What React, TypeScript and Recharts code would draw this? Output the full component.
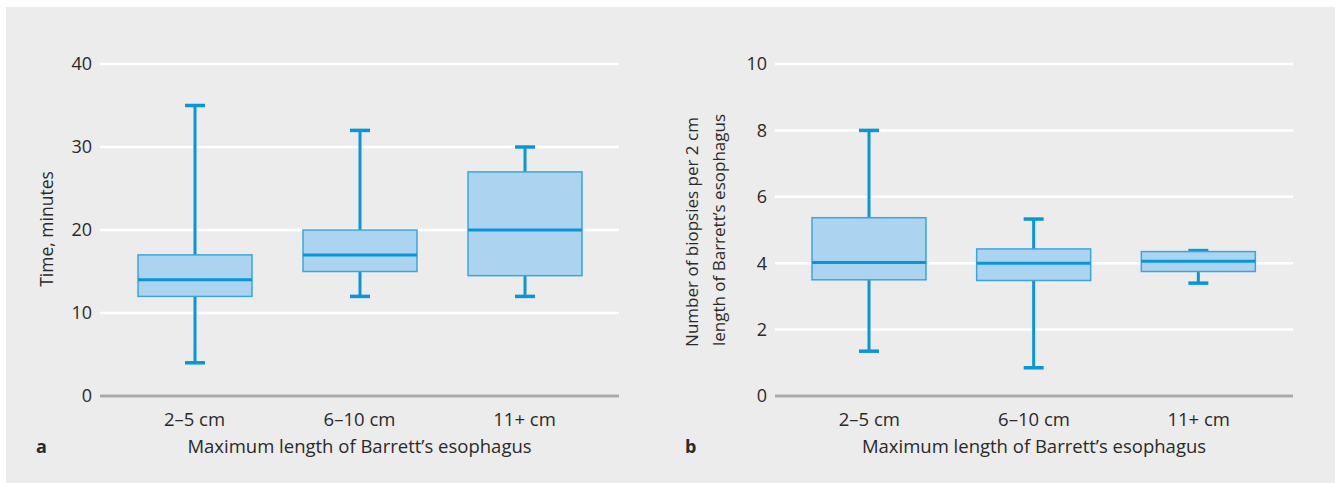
import { ComposedChart, Bar, XAxis, YAxis, CartesianGrid } from "recharts"

const categories = ["2–5 cm", "6–10 cm", "11+ cm"]

// panel a: time, minutes
const timeMin = [4, 12, 12]
const timeQ1 = [12, 15, 14.5]
const timeMedian = [14, 17, 20]
const timeQ3 = [17, 20, 27]
const timeMax = [35, 32, 30]
const timeTicks = [0, 10, 20, 30, 40]

// panel b: biopsies per 2 cm
const biopsyMin = [1.35, 0.85, 3.4]
const biopsyQ1 = [3.5, 3.48, 3.75]
const biopsyMedian = [4.02, 4.0, 4.06]
const biopsyQ3 = [5.37, 4.43, 4.35]
const biopsyMax = [8, 5.33, 4.38]
const biopsyTicks = [0, 2, 4, 6, 8, 10]

const FONT = "'Open Sans', 'Noto Sans', sans-serif"
const TEXT = "#2a2a2a"
const BLUE = "#0896d8"
const BOX_FILL = "#acd3f0"
const BOX_STROKE = "#3aa6df"

const rows = (mn: number[], q1: number[], md: number[], q3: number[], mx: number[]) =>
  categories.map((cat, i) => ({
    cat, range: [mn[i], mx[i]], min: mn[i], q1: q1[i], median: md[i], q3: q3[i], max: mx[i],
  }))

const timeData = rows(timeMin, timeQ1, timeMedian, timeQ3, timeMax)
const biopsyData = rows(biopsyMin, biopsyQ1, biopsyMedian, biopsyQ3, biopsyMax)

// draws a box plot inside the [min, max] range bar the library positions
function BoxShape(props: any) {
  const { x, y, width, height, payload } = props
  const top = Math.min(y, y + height)
  const bottom = Math.max(y, y + height)
  const { min, max, q1, median, q3 } = payload
  const py = (v: number) => bottom - ((v - min) / (max - min)) * (bottom - top)
  const cx = x + width / 2
  const cap = 10
  return (
    <g>
      <line x1={cx} x2={cx} y1={py(max)} y2={py(min)} stroke={BLUE} strokeWidth={3} />
      <line x1={cx - cap} x2={cx + cap} y1={py(max)} y2={py(max)} stroke={BLUE} strokeWidth={3.5} />
      <line x1={cx - cap} x2={cx + cap} y1={py(min)} y2={py(min)} stroke={BLUE} strokeWidth={3.5} />
      <rect x={x} y={py(q3)} width={width} height={py(q1) - py(q3)} fill={BOX_FILL} stroke={BOX_STROKE} strokeWidth={1.5} />
      <line x1={x} x2={x + width} y1={py(median)} y2={py(median)} stroke={BLUE} strokeWidth={3} />
    </g>
  )
}

const XTitle = (props: any) => {
  const { viewBox } = props
  return (
    <text x={viewBox.x + viewBox.width / 2} y={viewBox.y + 57} textAnchor="middle"
      fill={TEXT} fontSize={18.5} fontFamily={FONT}>
      Maximum length of Barrett’s esophagus
    </text>
  )
}

const YTitleA = () => (
  <text transform="translate(46,229) rotate(-90)" textAnchor="middle" dominantBaseline="central"
    fill={TEXT} fontSize={17.5} fontFamily={FONT}>
    Time, minutes
  </text>
)

const YTitleB = () => (
  <g>
    <text transform="translate(41,232) rotate(-90)" textAnchor="middle" dominantBaseline="central"
      fill={TEXT} fontSize={17} fontFamily={FONT}>
      Number of biopsies per 2 cm
    </text>
    <text transform="translate(68,230) rotate(-90)" textAnchor="middle" dominantBaseline="central"
      fill={TEXT} fontSize={17} fontFamily={FONT}>
      length of Barrett’s esophagus
    </text>
  </g>
)

interface PanelProps {
  data: ReturnType<typeof rows>
  ticks: number[]
  width: number
  margin: { top: number; right: number; bottom: number; left: number }
  yTitle: any
}

function Panel({ data, ticks, width, margin, yTitle }: PanelProps) {
  return (
    <ComposedChart width={width} height={483} data={data} margin={margin}>
      <CartesianGrid vertical={false} stroke="#ffffff" strokeWidth={2.5} />
      <XAxis
        dataKey="cat"
        height={60}
        padding={{ left: 12, right: 12 }}
        axisLine={{ stroke: "#a9a9a9", strokeWidth: 3 }}
        tickLine={false}
        tickMargin={11}
        tick={{ fill: TEXT, fontSize: 18.5, fontFamily: FONT }}
        label={{ content: XTitle }}
      />
      <YAxis
        width={60}
        domain={[0, ticks[ticks.length - 1]]}
        ticks={ticks}
        axisLine={false}
        tickLine={false}
        tick={{ fill: TEXT, fontSize: 18, fontFamily: FONT }}
        label={{ content: yTitle }}
      />
      <Bar dataKey="range" barSize={114} shape={BoxShape} isAnimationActive={false} />
    </ComposedChart>
  )
}

export default function App() {
  return (
    <div style={{ position: "absolute", left: 0, top: 0, width: 1335, height: 483, background: "#fff", overflow: "hidden" }}>
      <div style={{ position: "absolute", left: 6, top: 7, right: 0, bottom: 0, background: "#ebeceb" }} />
      <div style={{ position: "absolute", left: 0, top: 0 }}>
        <Panel data={timeData} ticks={timeTicks} width={650}
          margin={{ top: 64, right: 31, bottom: 27, left: 40 }} yTitle={YTitleA} />
      </div>
      <div style={{ position: "absolute", left: 650, top: 0 }}>
        <Panel data={biopsyData} ticks={biopsyTicks} width={685}
          margin={{ top: 64, right: 42, bottom: 27, left: 65 }} yTitle={YTitleB} />
      </div>
      <span style={{ position: "absolute", left: 36, top: 434, fontFamily: FONT, fontWeight: 700, fontSize: 18, color: TEXT }}>a</span>
      <span style={{ position: "absolute", left: 685, top: 434, fontFamily: FONT, fontWeight: 700, fontSize: 18, color: TEXT }}>b</span>
    </div>
  )
}
